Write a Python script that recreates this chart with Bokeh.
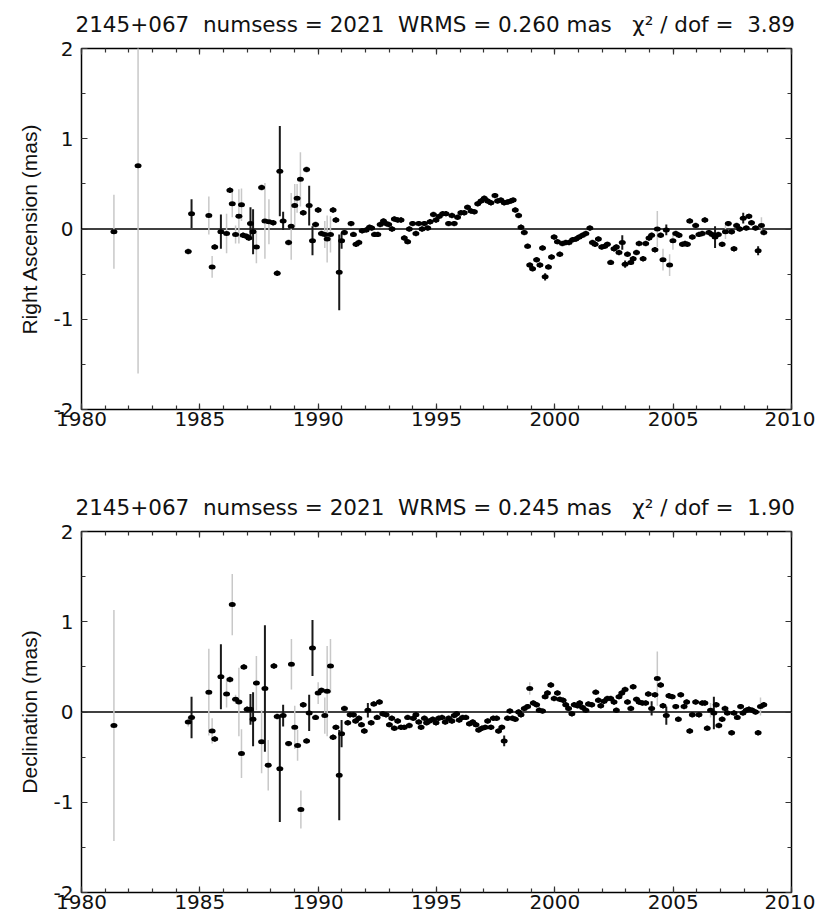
from bokeh.plotting import figure
from bokeh.models import (Range1d, LinearAxis, SingleIntervalTicker, Span,
                          ColumnDataSource, Spacer, CustomJSTickFormatter)
from bokeh.layouts import column, row
from bokeh.embed import file_html
from bokeh.resources import INLINE

# ---------------- data: Right Ascension ----------------
ra_year = [1981.37, 1982.39, 1984.51, 1984.65, 1985.38, 1985.52, 1985.63, 1985.89, 1986.13, 1986.27,
           1986.37, 1986.51, 1986.65, 1986.76, 1986.83, 1986.97, 1987.07, 1987.14, 1987.25, 1987.39,
           1987.61, 1987.75, 1987.92, 1988.10, 1988.27, 1988.38, 1988.52, 1988.75, 1988.86, 1989.01,
           1989.11, 1989.25, 1989.37, 1989.51, 1989.62, 1989.76, 1989.89, 1990.00, 1990.14, 1990.28,
           1990.38, 1990.52, 1990.63, 1990.75, 1990.89, 1990.99,
           1991.11, 1991.39, 1991.49, 1991.60, 1991.72, 1991.86, 1992.03, 1992.17, 1992.26, 1992.38,
           1992.52, 1992.62, 1992.76, 1992.87, 1992.98, 1993.12, 1993.22, 1993.36, 1993.50, 1993.64,
           1993.78, 1993.85, 1993.99, 1994.13, 1994.25, 1994.39, 1994.49, 1994.63, 1994.73, 1994.87,
           1994.98, 1995.12, 1995.26, 1995.40, 1995.51, 1995.65, 1995.75, 1995.89, 1996.03, 1996.17,
           1996.31, 1996.46, 1996.60, 1996.74, 1996.88, 1997.02, 1997.16, 1997.30, 1997.47, 1997.58,
           1997.72, 1997.86, 1998.00, 1998.14, 1998.24, 1998.33, 1998.47, 1998.57, 1998.71, 1998.85,
           1998.94, 1999.06, 1999.23, 1999.37, 1999.48, 1999.59, 1999.73, 1999.86, 1999.97, 2000.11,
           2000.21, 2000.32, 2000.46, 2000.60, 2000.75, 2000.89, 2001.03, 2001.17, 2001.31, 2001.48,
           2001.59, 2001.70, 2001.84, 2001.98, 2002.11, 2002.22, 2002.36, 2002.50, 2002.60, 2002.71,
           2002.85, 2002.97, 2003.07, 2003.21, 2003.31, 2003.45, 2003.56, 2003.73, 2003.84, 2003.98,
           2004.09, 2004.23, 2004.33, 2004.47, 2004.57, 2004.71, 2004.85, 2004.99, 2005.11, 2005.25,
           2005.39, 2005.50, 2005.60, 2005.70, 2005.81, 2005.95, 2006.09, 2006.23, 2006.34, 2006.51,
           2006.65, 2006.77, 2006.91, 2007.07, 2007.21, 2007.33, 2007.47, 2007.57, 2007.68, 2007.81,
           2007.96, 2008.09, 2008.20, 2008.31, 2008.48, 2008.59, 2008.73, 2008.83]
ra_val = [-0.03, 0.70, -0.25, 0.17, 0.15, -0.42, -0.20, -0.03, -0.05, 0.43,
          0.28, -0.06, 0.14, 0.27, -0.07, -0.08, -0.10, 0.06, -0.03, -0.20,
          0.46, 0.09, 0.08, 0.07, -0.49, 0.64, 0.09, -0.15, 0.03, 0.26,
          0.34, 0.55, 0.18, 0.66, 0.26, -0.13, 0.05, 0.21, -0.05, -0.06,
          -0.11, -0.06, 0.21, 0.10, -0.48, -0.13,
          -0.04, 0.06, -0.06, -0.17, -0.15, -0.02, -0.01, 0.02, 0.01, -0.06,
          -0.06, 0.05, 0.09, 0.06, 0.05, 0.00, 0.11, 0.10, 0.10, -0.10,
          -0.14, 0.00, 0.06, -0.05, 0.06, 0.00, 0.06, 0.01, 0.08, 0.16,
          0.10, 0.14, 0.17, 0.17, 0.06, 0.15, 0.06, 0.13, 0.18, 0.18,
          0.24, 0.20, 0.19, 0.28, 0.31, 0.34, 0.31, 0.29, 0.37, 0.31,
          0.32, 0.29, 0.30, 0.31, 0.32, 0.21, 0.15, 0.02, -0.04, -0.19,
          -0.40, -0.44, -0.34, -0.40, -0.21, -0.53, -0.42, -0.31, -0.09, -0.14,
          -0.28, -0.16, -0.15, -0.15, -0.12, -0.11, -0.09, -0.07, -0.05, 0.01,
          -0.15, -0.17, -0.11, -0.20, -0.19, -0.17, -0.37, -0.22, -0.20, -0.26,
          -0.15, -0.39, -0.28, -0.37, -0.33, -0.26, -0.16, -0.33, -0.16, -0.10,
          -0.07, -0.23, 0.00, -0.07, -0.34, -0.01, -0.40, -0.13, -0.05, -0.07,
          -0.17, -0.16, -0.17, 0.09, -0.09, 0.04, -0.06, -0.05, 0.10, -0.04,
          -0.06, -0.09, -0.06, -0.17, -0.03, 0.06, -0.03, -0.22, 0.04, 0.00,
          0.12, 0.01, 0.14, 0.07, 0.01, -0.24, 0.04, -0.04]
ra_err = [0.41, 2.30, 0.03, 0.16, 0.21, 0.12, 0.03, 0.19, 0.22, 0.03,
          0.15, 0.10, 0.30, 0.18, 0.03, 0.03, 0.03, 0.18, 0.25, 0.18,
          0.03, 0.42, 0.25, 0.03, 0.03, 0.50, 0.10, 0.03, 0.37, 0.24,
          0.16, 0.30, 0.03, 0.03, 0.22, 0.16, 0.03, 0.03, 0.03, 0.15,
          0.26, 0.20, 0.03, 0.03, 0.42, 0.09,
          0.03, 0.03, 0.03, 0.03, 0.03, 0.03, 0.03, 0.03, 0.03, 0.03,
          0.03, 0.03, 0.03, 0.03, 0.03, 0.03, 0.03, 0.03, 0.03, 0.03,
          0.03, 0.03, 0.03, 0.03, 0.03, 0.03, 0.03, 0.03, 0.03, 0.03,
          0.03, 0.03, 0.03, 0.03, 0.03, 0.03, 0.03, 0.03, 0.03, 0.03,
          0.03, 0.03, 0.03, 0.03, 0.03, 0.03, 0.03, 0.03, 0.03, 0.03,
          0.03, 0.03, 0.03, 0.03, 0.03, 0.03, 0.03, 0.03, 0.03, 0.03,
          0.03, 0.03, 0.03, 0.03, 0.03, 0.04, 0.03, 0.03, 0.03, 0.03,
          0.03, 0.03, 0.03, 0.03, 0.03, 0.03, 0.03, 0.03, 0.03, 0.03,
          0.03, 0.03, 0.03, 0.03, 0.03, 0.03, 0.03, 0.03, 0.03, 0.03,
          0.08, 0.04, 0.03, 0.03, 0.03, 0.03, 0.03, 0.03, 0.03, 0.03,
          0.03, 0.03, 0.20, 0.03, 0.12, 0.06, 0.12, 0.10, 0.03, 0.03,
          0.03, 0.03, 0.03, 0.03, 0.03, 0.03, 0.03, 0.03, 0.03, 0.03,
          0.03, 0.12, 0.03, 0.03, 0.08, 0.03, 0.03, 0.03, 0.03, 0.03,
          0.06, 0.03, 0.03, 0.03, 0.03, 0.05, 0.09, 0.03]
# 1 = dark error bar, 0 = light grey error bar
ra_dark = [0, 0, 1, 1, 0, 0, 1, 1, 0, 1,
           0, 0, 0, 0, 1, 1, 1, 1, 1, 0,
           1, 0, 0, 1, 1, 1, 1, 1, 0, 0,
           0, 0, 1, 1, 1, 1, 1, 1, 1, 0,
           0, 0, 1, 1, 1, 1,
           1, 1, 1, 1, 1, 1, 1, 1, 1, 1,
           1, 1, 1, 1, 1, 1, 1, 1, 1, 1,
           1, 1, 1, 1, 1, 1, 1, 1, 1, 1,
           1, 1, 1, 1, 1, 1, 1, 1, 1, 1,
           1, 1, 1, 1, 1, 1, 1, 1, 1, 1,
           1, 1, 1, 1, 1, 1, 1, 1, 1, 1,
           1, 1, 1, 1, 1, 1, 1, 1, 1, 1,
           1, 1, 1, 1, 1, 1, 1, 1, 1, 1,
           1, 1, 1, 1, 1, 1, 1, 1, 1, 1,
           1, 1, 1, 1, 1, 1, 1, 1, 1, 1,
           1, 1, 0, 1, 0, 1, 0, 0, 1, 1,
           1, 1, 1, 1, 1, 1, 1, 1, 1, 1,
           1, 1, 1, 1, 0, 1, 1, 1, 1, 1,
           1, 1, 1, 1, 1, 1, 0, 1]

# ---------------- data: Declination ----------------
dec_year = [1981.37, 1984.51, 1984.65, 1985.38, 1985.52, 1985.63, 1985.89, 1986.13, 1986.27, 1986.37,
            1986.51, 1986.65, 1986.76, 1986.86, 1987.00, 1987.14, 1987.25, 1987.39, 1987.61, 1987.75,
            1987.89, 1988.13, 1988.27, 1988.38, 1988.52, 1988.75, 1988.87, 1989.01, 1989.13, 1989.27,
            1989.37, 1989.51, 1989.62, 1989.76, 1989.89, 1990.00, 1990.14, 1990.28, 1990.38, 1990.52,
            1990.63, 1990.75, 1990.89, 1990.99,
            1991.11, 1991.25, 1991.35, 1991.49, 1991.58, 1991.72, 1991.83, 1991.95, 1992.10, 1992.24,
            1992.35, 1992.49, 1992.59, 1992.73, 1992.87, 1993.01, 1993.11, 1993.22, 1993.36, 1993.50,
            1993.64, 1993.78, 1993.85, 1994.02, 1994.13, 1994.25, 1994.35, 1994.49, 1994.58, 1994.70,
            1994.84, 1994.98, 1995.09, 1995.23, 1995.37, 1995.51, 1995.65, 1995.75, 1995.85, 1995.96,
            1996.10, 1996.24, 1996.39, 1996.53, 1996.67, 1996.78, 1996.92, 1997.06, 1997.16, 1997.30,
            1997.40, 1997.54, 1997.62, 1997.76, 1997.86, 1998.00, 1998.10, 1998.21, 1998.33, 1998.47,
            1998.57, 1998.71, 1998.85, 1998.94, 1999.09, 1999.23, 1999.34, 1999.48, 1999.59, 1999.69,
            1999.83, 1999.97, 2000.11, 2000.21, 2000.35, 2000.46, 2000.58, 2000.72, 2000.82, 2000.96,
            2001.05, 2001.17, 2001.31, 2001.42, 2001.56, 2001.73, 2001.84, 2001.94, 2002.08, 2002.22,
            2002.36, 2002.50, 2002.60, 2002.71, 2002.83, 2002.97, 2003.07, 2003.21, 2003.31, 2003.45,
            2003.56, 2003.70, 2003.84, 2003.95, 2004.09, 2004.23, 2004.33, 2004.47, 2004.57, 2004.71,
            2004.82, 2004.96, 2005.11, 2005.22, 2005.32, 2005.46, 2005.57, 2005.70, 2005.81, 2005.95,
            2006.09, 2006.23, 2006.34, 2006.44, 2006.58, 2006.72, 2006.82, 2006.93, 2007.07, 2007.19,
            2007.29, 2007.47, 2007.57, 2007.71, 2007.85, 2007.95, 2008.09, 2008.20, 2008.34, 2008.48,
            2008.59, 2008.69, 2008.83]
dec_val = [-0.15, -0.11, -0.06, 0.22, -0.21, -0.30, 0.39, 0.20, 0.36, 1.19,
           0.14, 0.11, -0.46, 0.50, 0.03, 0.03, -0.08, 0.32, -0.33, 0.26,
           -0.59, 0.51, -0.05, -0.63, -0.04, -0.35, 0.53, -0.17, -0.37, -1.08,
           0.08, -0.32, -0.01, 0.71, -0.06, 0.21, 0.24, -0.04, 0.23, 0.51,
           -0.28, -0.17, -0.70, -0.24,
           0.04, -0.12, -0.03, -0.03, -0.10, -0.07, -0.14, -0.21, 0.02, -0.12,
           0.09, -0.06, 0.11, -0.02, -0.03, -0.14, -0.07, -0.18, -0.10, -0.17,
           -0.17, -0.06, -0.15, -0.07, -0.03, -0.11, -0.17, -0.07, -0.12, -0.10,
           -0.08, -0.12, -0.07, -0.06, -0.11, -0.07, -0.10, -0.04, -0.02, -0.09,
           -0.06, -0.06, -0.13, -0.11, -0.14, -0.20, -0.18, -0.17, -0.10, -0.17,
           -0.07, -0.07, -0.21, -0.17, -0.32, -0.07, 0.01, -0.07, -0.08, 0.00,
           -0.03, 0.04, 0.06, 0.26, 0.10, 0.08, 0.02, 0.01, 0.17, 0.21,
           0.30, 0.15, 0.21, 0.14, 0.13, 0.08, 0.04, -0.02, 0.08, 0.07,
           0.10, 0.05, 0.02, 0.09, 0.08, 0.22, 0.13, 0.07, 0.12, 0.15,
           0.15, 0.11, 0.02, 0.17, 0.21, 0.25, 0.11, 0.04, 0.28, 0.14,
           0.11, 0.10, 0.10, 0.20, 0.04, 0.19, 0.37, 0.30, 0.07, -0.04,
           0.18, 0.17, 0.06, -0.08, 0.19, 0.06, 0.11, -0.21, -0.03, 0.11,
           -0.03, 0.10, 0.10, -0.18, 0.02, -0.01, 0.08, -0.15, -0.08, 0.04,
           -0.01, -0.23, -0.01, -0.06, 0.06, -0.01, 0.02, 0.03, 0.02, 0.00,
           -0.23, 0.06, 0.08]
dec_err = [1.28, 0.05, 0.23, 0.48, 0.14, 0.03, 0.36, 0.15, 0.03, 0.34,
           0.05, 0.38, 0.27, 0.03, 0.03, 0.17, 0.30, 0.30, 0.35, 0.70,
           0.28, 0.03, 0.03, 0.59, 0.12, 0.03, 0.28, 0.24, 0.17, 0.21,
           0.03, 0.03, 0.20, 0.31, 0.03, 0.12, 0.03, 0.20, 0.50, 0.30,
           0.03, 0.03, 0.50, 0.15,
           0.03, 0.03, 0.03, 0.03, 0.03, 0.03, 0.03, 0.03, 0.08, 0.03,
           0.03, 0.03, 0.03, 0.03, 0.03, 0.03, 0.03, 0.03, 0.03, 0.03,
           0.03, 0.03, 0.03, 0.03, 0.03, 0.03, 0.03, 0.03, 0.03, 0.03,
           0.03, 0.03, 0.03, 0.03, 0.03, 0.03, 0.03, 0.03, 0.03, 0.03,
           0.03, 0.03, 0.03, 0.03, 0.03, 0.03, 0.03, 0.03, 0.03, 0.03,
           0.03, 0.03, 0.03, 0.03, 0.06, 0.03, 0.03, 0.03, 0.03, 0.03,
           0.03, 0.03, 0.03, 0.07, 0.03, 0.03, 0.03, 0.03, 0.03, 0.03,
           0.03, 0.03, 0.03, 0.03, 0.03, 0.03, 0.03, 0.03, 0.03, 0.03,
           0.03, 0.03, 0.03, 0.03, 0.03, 0.03, 0.03, 0.03, 0.03, 0.03,
           0.03, 0.03, 0.03, 0.03, 0.03, 0.03, 0.03, 0.03, 0.03, 0.03,
           0.03, 0.03, 0.03, 0.03, 0.08, 0.03, 0.30, 0.03, 0.03, 0.10,
           0.03, 0.03, 0.03, 0.03, 0.03, 0.03, 0.03, 0.03, 0.03, 0.03,
           0.03, 0.03, 0.03, 0.03, 0.08, 0.18, 0.03, 0.03, 0.03, 0.03,
           0.03, 0.03, 0.03, 0.03, 0.03, 0.03, 0.03, 0.03, 0.03, 0.03,
           0.03, 0.10, 0.03]
dec_dark = [0, 0, 1, 0, 0, 1, 1, 0, 1, 0,
            0, 0, 0, 1, 1, 1, 1, 0, 0, 1,
            0, 1, 1, 1, 1, 1, 0, 0, 0, 0,
            1, 1, 1, 1, 1, 0, 1, 0, 0, 0,
            1, 1, 1, 1,
            1, 1, 1, 1, 1, 1, 1, 1, 1, 1,
            1, 1, 1, 1, 1, 1, 1, 1, 1, 1,
            1, 1, 1, 1, 1, 1, 1, 1, 1, 1,
            1, 1, 1, 1, 1, 1, 1, 1, 1, 1,
            1, 1, 1, 1, 1, 1, 1, 1, 1, 1,
            1, 1, 1, 1, 1, 1, 1, 1, 1, 1,
            1, 1, 1, 0, 1, 1, 1, 1, 1, 1,
            1, 1, 1, 1, 1, 1, 1, 1, 1, 1,
            1, 1, 1, 1, 1, 1, 1, 1, 1, 1,
            1, 1, 1, 1, 1, 1, 1, 1, 1, 1,
            1, 1, 1, 1, 1, 1, 0, 1, 1, 1,
            1, 1, 1, 1, 1, 1, 1, 1, 1, 1,
            1, 1, 1, 1, 0, 1, 1, 1, 1, 1,
            1, 1, 1, 1, 1, 1, 1, 1, 1, 1,
            1, 0, 1]

ra_title = "2145+067\u00a0 numsess = 2021\u00a0 WRMS = 0.260 mas\u00a0\u00a0 \u03c7\u00b2 / dof =\u00a0 3.89"
dec_title = "2145+067\u00a0 numsess = 2021\u00a0 WRMS = 0.245 mas\u00a0\u00a0 \u03c7\u00b2 / dof =\u00a0 1.90"

TICK_FONT = "DejaVu Sans"


def style_ticks(ax):
    ax.axis_line_color = None
    ax.major_tick_in = 6
    ax.major_tick_out = 0
    ax.minor_tick_in = 4
    ax.minor_tick_out = 0
    ax.major_tick_line_color = "#333333"
    ax.minor_tick_line_color = "#333333"
    ax.major_tick_line_width = 1.2
    ax.minor_tick_line_width = 1.2


def make_panel(title, ylabel, years, vals, errs, dark, top, bottom):
    p = figure(frame_width=710, frame_height=361,
               x_range=Range1d(1980, 2010), y_range=Range1d(-2, 2),
               output_backend="svg", toolbar_location=None,
               min_border_left=67, min_border_right=24,
               min_border_top=top, min_border_bottom=bottom,
               background_fill_color="white", border_fill_color="white",
               outline_line_color="black", outline_line_width=1.5)
    p.grid.visible = False
    p.title.text = title
    p.title.text_font = "DejaVu Sans"
    p.title.text_font_size = "21.5px"
    p.title.text_font_style = "normal"
    p.title.align = "left"
    p.title.vertical_align = "top"
    p.title.standoff = 20
    p.title.offset = -6
    p.title.text_color = "#111111"

    xt = SingleIntervalTicker(interval=5, num_minor_ticks=5)
    yt = SingleIntervalTicker(interval=1, num_minor_ticks=2)

    xb = p.below[0]
    yl = p.left[0]
    xb.ticker = xt
    yl.ticker = yt
    style_ticks(xb)
    style_ticks(yl)
    xb.major_label_text_font = TICK_FONT
    xb.major_label_text_font_size = "20px"
    xb.major_label_standoff = 2
    xb.major_label_text_color = "#111111"
    yl.formatter = CustomJSTickFormatter(code="return tick.toFixed(0);")
    yl.major_label_text_font = TICK_FONT
    yl.major_label_text_font_size = "20px"
    yl.major_label_standoff = 8
    yl.major_label_text_color = "#111111"
    yl.axis_label = ylabel
    yl.axis_label_text_font = "Liberation Sans"
    yl.axis_label_text_font_size = "21px"
    yl.axis_label_text_font_style = "normal"
    yl.axis_label_standoff = 10
    yl.axis_label_text_color = "#111111"

    blank = CustomJSTickFormatter(code="return '';")
    xa = LinearAxis(ticker=xt, formatter=blank, major_label_standoff=0)
    yr = LinearAxis(ticker=yt, formatter=blank, major_label_standoff=0)
    style_ticks(xa)
    style_ticks(yr)
    p.add_layout(xa, "above")
    p.add_layout(yr, "right")

    p.add_layout(Span(location=0, dimension="width", line_color="black",
                      line_width=1.5, level="underlay"))

    lo = [v - e for v, e in zip(vals, errs)]
    hi = [v + e for v, e in zip(vals, errs)]
    light = ColumnDataSource(dict(
        x=[x for x, d in zip(years, dark) if not d],
        lo=[a for a, d in zip(lo, dark) if not d],
        hi=[a for a, d in zip(hi, dark) if not d]))
    heavy = ColumnDataSource(dict(
        x=[x for x, d in zip(years, dark) if d],
        lo=[a for a, d in zip(lo, dark) if d],
        hi=[a for a, d in zip(hi, dark) if d]))
    p.segment(x0="x", y0="lo", x1="x", y1="hi", source=light,
              line_color="#c8c8c8", line_width=1.5)
    p.segment(x0="x", y0="lo", x1="x", y1="hi", source=heavy,
              line_color="#1a1a1a", line_width=2)
    pts = ColumnDataSource(dict(x=years, y=vals))
    p.ellipse(x="x", y="y", width=7, height=5, width_units="screen",
              height_units="screen", source=pts, fill_color="black",
              line_color=None)
    return p


p1 = make_panel(ra_title, "Right Ascension (mas)", ra_year, ra_val, ra_err, ra_dark, 48, 74)
p2 = make_panel(dec_title, "Declination (mas)", dec_year, dec_val, dec_err, dec_dark, 48, 20)

layout = row(Spacer(width=14, height=10), column(p1, p2))

html = file_html(layout, INLINE)
html = html.replace("<body>", '<body style="background-color:#009999;">', 1)
open("out.html", "w").write(html)
